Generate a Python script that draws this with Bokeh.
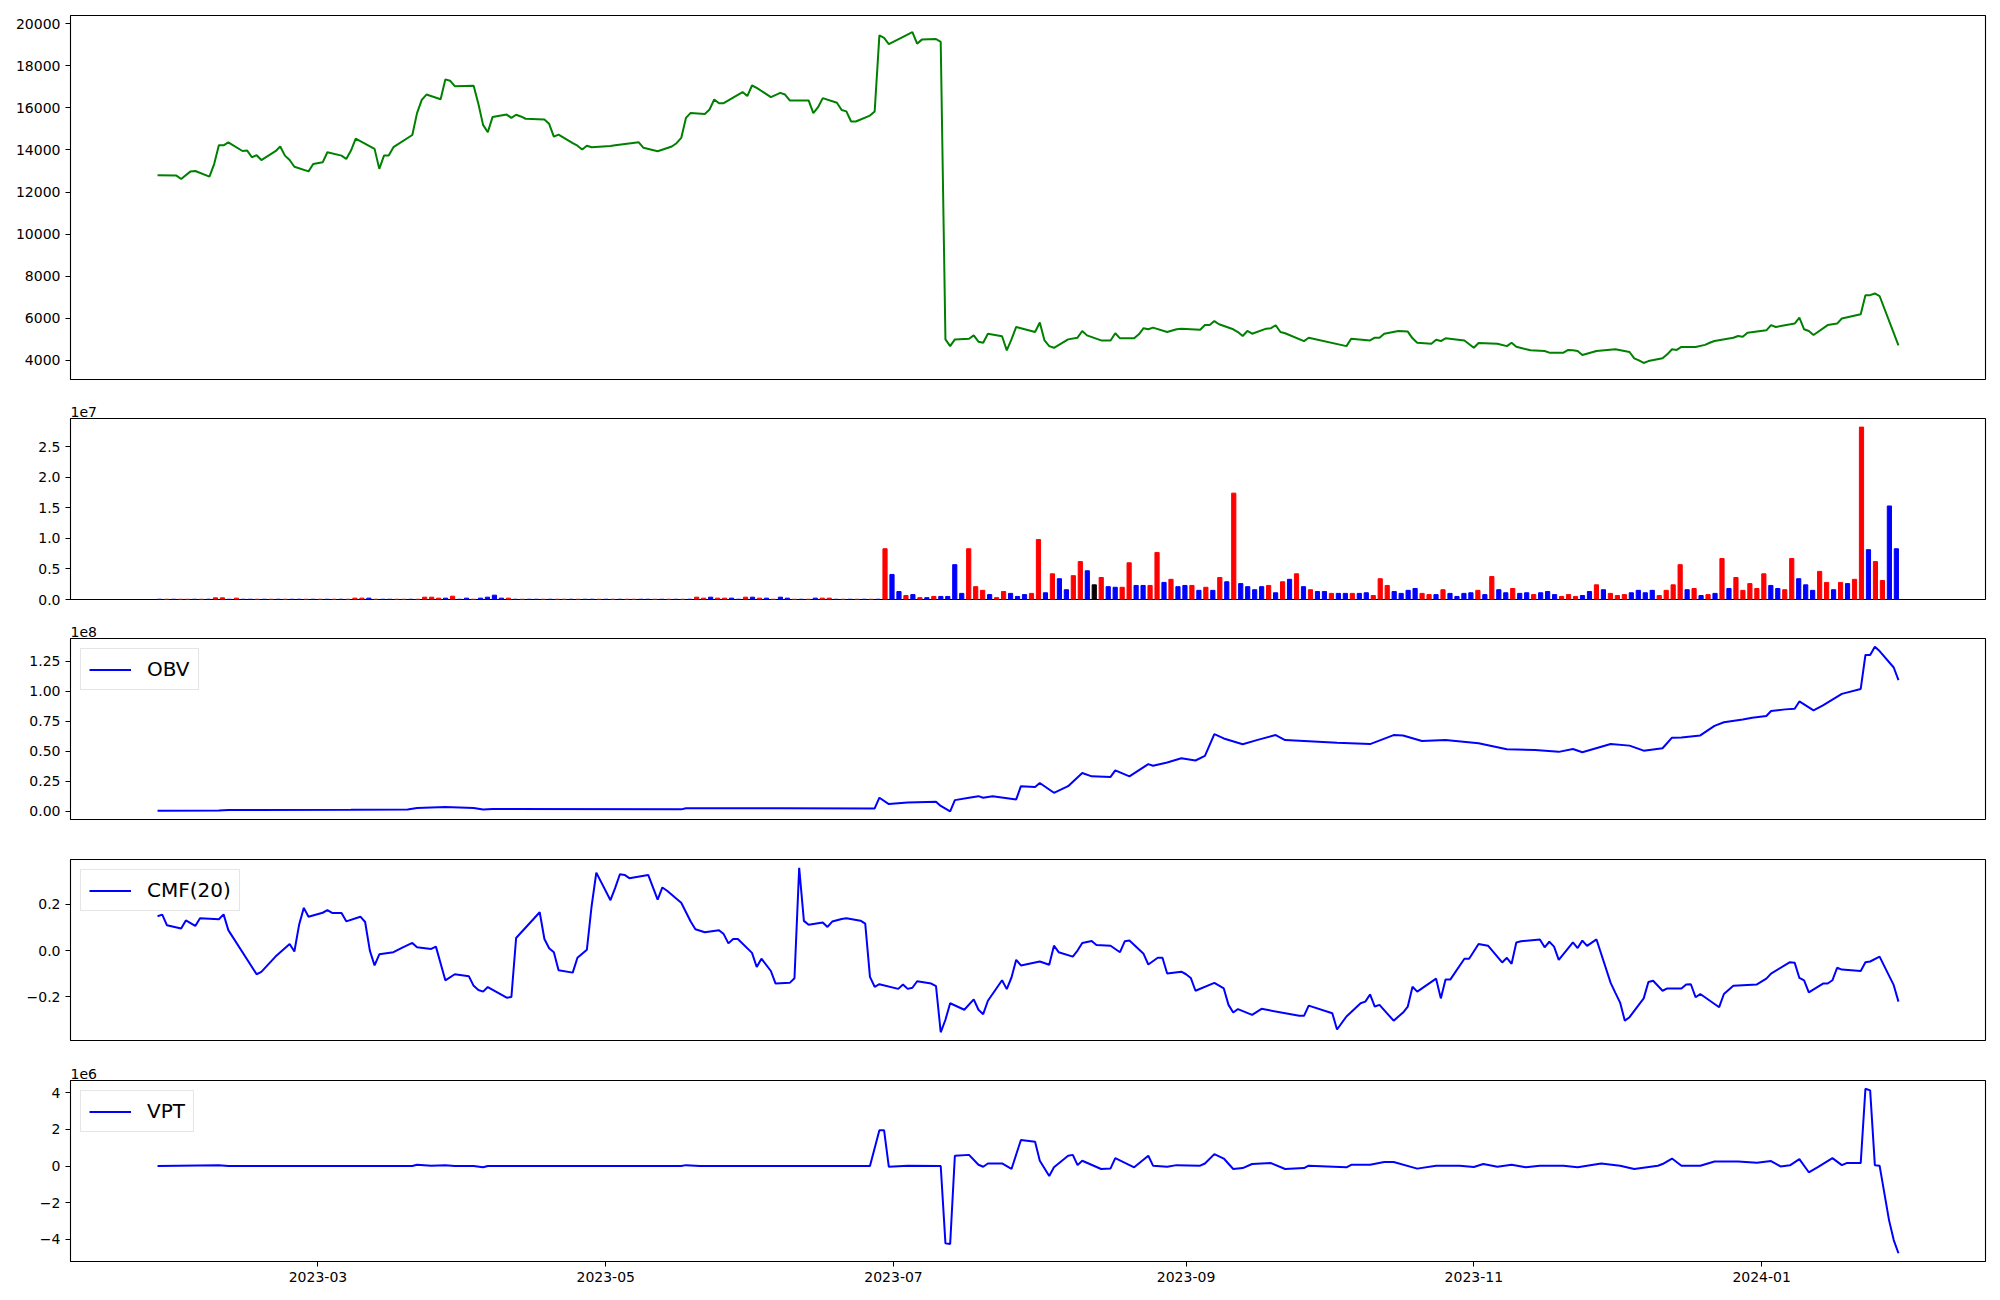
import pandas as pd
from bokeh.plotting import figure
from bokeh.layouts import column
from bokeh.models import Range1d, SingleIntervalTicker, FixedTicker, CustomJSTickFormatter
from bokeh.embed import file_html
from bokeh.resources import INLINE

# ---------------- data ----------------
price_dates = [
    "2023-01-26", "2023-01-30", "2023-01-31", "2023-02-02", "2023-02-03", "2023-02-06", "2023-02-07", "2023-02-08",
    "2023-02-09", "2023-02-10", "2023-02-13", "2023-02-14", "2023-02-15", "2023-02-16", "2023-02-17", "2023-02-20",
    "2023-02-21", "2023-02-22", "2023-02-23", "2023-02-24", "2023-02-27", "2023-02-28", "2023-03-02", "2023-03-03",
    "2023-03-06", "2023-03-07", "2023-03-08", "2023-03-09", "2023-03-13", "2023-03-14", "2023-03-15", "2023-03-16",
    "2023-03-17", "2023-03-21", "2023-03-22", "2023-03-23", "2023-03-24", "2023-03-27", "2023-03-28", "2023-03-29",
    "2023-03-30", "2023-04-03", "2023-04-04", "2023-04-05", "2023-04-06", "2023-04-07", "2023-04-10", "2023-04-11",
    "2023-04-12", "2023-04-13", "2023-04-14", "2023-04-18", "2023-04-19", "2023-04-20", "2023-04-21", "2023-04-24",
    "2023-04-25", "2023-04-26", "2023-04-27", "2023-04-28", "2023-05-02", "2023-05-03", "2023-05-08", "2023-05-09",
    "2023-05-12", "2023-05-15", "2023-05-16", "2023-05-17", "2023-05-18", "2023-05-19", "2023-05-22", "2023-05-23",
    "2023-05-24", "2023-05-25", "2023-05-26", "2023-05-30", "2023-05-31", "2023-06-01", "2023-06-02", "2023-06-05",
    "2023-06-07", "2023-06-08", "2023-06-09", "2023-06-13", "2023-06-14", "2023-06-15", "2023-06-16", "2023-06-19",
    "2023-06-20", "2023-06-21", "2023-06-22", "2023-06-23", "2023-06-26", "2023-06-27", "2023-06-28", "2023-06-29",
    "2023-06-30", "2023-07-05", "2023-07-06", "2023-07-07", "2023-07-10", "2023-07-11", "2023-07-12", "2023-07-13",
    "2023-07-14", "2023-07-17", "2023-07-18", "2023-07-19", "2023-07-20", "2023-07-21", "2023-07-24", "2023-07-25",
    "2023-07-26", "2023-07-27", "2023-07-31", "2023-08-01", "2023-08-02", "2023-08-03", "2023-08-04", "2023-08-07",
    "2023-08-09", "2023-08-10", "2023-08-11", "2023-08-14", "2023-08-16", "2023-08-17", "2023-08-18", "2023-08-21",
    "2023-08-22", "2023-08-23", "2023-08-24", "2023-08-25", "2023-08-28", "2023-08-30", "2023-08-31", "2023-09-04",
    "2023-09-05", "2023-09-06", "2023-09-07", "2023-09-08", "2023-09-11", "2023-09-12", "2023-09-13", "2023-09-14",
    "2023-09-15", "2023-09-18", "2023-09-19", "2023-09-20", "2023-09-21", "2023-09-22", "2023-09-26", "2023-09-27",
    "2023-10-05", "2023-10-06", "2023-10-10", "2023-10-11", "2023-10-12", "2023-10-13", "2023-10-16", "2023-10-18",
    "2023-10-19", "2023-10-20", "2023-10-23", "2023-10-24", "2023-10-25", "2023-10-26", "2023-10-30", "2023-11-01",
    "2023-11-02", "2023-11-06", "2023-11-08", "2023-11-09", "2023-11-10", "2023-11-13", "2023-11-16", "2023-11-17",
    "2023-11-20", "2023-11-21", "2023-11-22", "2023-11-23", "2023-11-24", "2023-11-27", "2023-12-01", "2023-12-04",
    "2023-12-05", "2023-12-06", "2023-12-07", "2023-12-08", "2023-12-11", "2023-12-12", "2023-12-13", "2023-12-14",
    "2023-12-15", "2023-12-18", "2023-12-20", "2023-12-21", "2023-12-22", "2023-12-26", "2023-12-27", "2023-12-28",
    "2023-12-29", "2024-01-02", "2024-01-03", "2024-01-04", "2024-01-08", "2024-01-09", "2024-01-10", "2024-01-11",
    "2024-01-12", "2024-01-15", "2024-01-16", "2024-01-17", "2024-01-18", "2024-01-22", "2024-01-23", "2024-01-24",
    "2024-01-25", "2024-01-26", "2024-01-30",
]
price_values = [
    12800, 12780, 12620, 12980, 13000, 12730, 13330, 14220,
    14220, 14360, 13950, 13970, 13650, 13750, 13520, 13940,
    14160, 13730, 13520, 13200, 12980, 13330, 13410, 13890,
    13730, 13570, 13970, 14540, 14050, 13100, 13730, 13730,
    14130, 14710, 15750, 16380, 16630, 16410, 17350, 17290,
    17030, 17050, 16190, 15190, 14840, 15560, 15680, 15520,
    15670, 15590, 15480, 15440, 15240, 14630, 14730, 14320,
    14200, 14020, 14200, 14130, 14190, 14220, 14360, 14100,
    13940, 14160, 14320, 14570, 15520, 15760, 15710, 15920,
    16400, 16220, 16220, 16750, 16560, 17060, 16950, 16510,
    16710, 16630, 16350, 16350, 15750, 16030, 16460, 16240,
    15900, 15830, 15350, 15350, 15630, 15830, 19440, 19320,
    19030, 19600, 19050, 19240, 19270, 19130, 5000, 4680,
    5000, 5030, 5190, 4890, 4840, 5270, 5150, 4480,
    5000, 5590, 5350, 5800, 4950, 4680, 4600, 5000,
    5080, 5400, 5190, 4950, 4950, 5290, 5050, 5050,
    5240, 5530, 5480, 5560, 5350, 5480, 5510, 5460,
    5680, 5680, 5870, 5720, 5480, 5350, 5160, 5400,
    5270, 5510, 5530, 5670, 5350, 5290, 4920, 5080,
    4680, 5030, 4950, 5080, 5080, 5270, 5400, 5370,
    5050, 4840, 4790, 4980, 4920, 5050, 4950, 4600,
    4830, 4790, 4680, 4840, 4650, 4480, 4450, 4370,
    4370, 4500, 4480, 4450, 4260, 4450, 4530, 4400,
    4100, 4000, 3880, 3970, 4100, 4290, 4530, 4500,
    4640, 4640, 4740, 4840, 4920, 5080, 5160, 5130,
    5320, 5430, 5680, 5590, 5750, 6030, 5480, 5400,
    5210, 5680, 5720, 5750, 5990, 6190, 7100, 7100,
    7180, 7060, 4720,
]

# volume per trading session (millions of shares), drawn by session index
volume_m = [
    0.04, 0.04, 0.04, 0.04, 0.04, 0.04, 0.04, 0.04, 0.27, 0.27, 0.04, 0.22,
    0.04, 0.04, 0.04, 0.04, 0.04, 0.04, 0.04, 0.04, 0.04, 0.04, 0.04, 0.04, 0.04, 0.04, 0.04, 0.04,
    0.22, 0.22, 0.22,
    0.04, 0.04, 0.04, 0.04, 0.04, 0.04, 0.04,
    0.38, 0.38, 0.22, 0.22, 0.54, 0.04, 0.22, 0.04, 0.22, 0.38, 0.71, 0.22, 0.22,
    0.04, 0.04, 0.04, 0.04, 0.04, 0.04, 0.04, 0.04, 0.04, 0.04, 0.04, 0.04, 0.04,
    0.04, 0.04, 0.04, 0.04, 0.04, 0.04, 0.04, 0.04, 0.04, 0.04, 0.04, 0.04, 0.04,
    0.38, 0.22, 0.38, 0.22, 0.22, 0.22, 0.04, 0.38, 0.38, 0.22, 0.22, 0.04, 0.38, 0.22, 0.04, 0.04,
    0.04, 0.22, 0.22, 0.22,
    0.04, 0.04, 0.04, 0.04, 0.04, 0.04, 0.04,
    8.3, 4.1, 1.3, 0.65, 0.8, 0.3, 0.3, 0.5, 0.5, 0.5,
    5.7, 1.0, 8.3, 2.1, 1.5, 0.8, 0.3, 1.3, 1.0, 0.5,
    0.8, 1.0, 9.8, 1.1, 4.2, 3.4, 1.6, 3.9, 6.2, 4.7,
    2.4, 3.6, 2.1, 2.0, 2.0, 6.0, 2.3, 2.3, 2.3, 7.7,
    2.8, 3.3, 2.1, 2.3, 2.3, 1.5, 2.0, 1.5, 3.6, 2.9,
    17.4, 2.6, 2.1, 1.6, 2.1, 2.3, 1.1, 2.9, 3.3, 4.2,
    2.1, 1.6, 1.3, 1.3, 1.0, 1.0, 1.0, 1.0, 1.0, 1.1,
    0.65, 3.4, 2.3, 1.3, 1.0, 1.5, 1.8, 1.0, 0.8, 0.8,
    1.6, 1.0, 0.5, 1.0, 1.1, 1.5, 0.8, 3.75, 1.6, 1.1,
    1.8, 1.0, 1.1, 0.8, 1.1, 1.3, 0.8, 0.5, 0.8, 0.5,
    0.65, 1.3, 2.4, 1.6, 1.0, 0.65, 0.8, 1.1, 1.5, 1.1,
    1.5, 0.65, 1.5, 2.4, 5.7, 1.6, 1.8, 0.65, 0.8, 1.0,
    6.7, 1.8, 3.6, 1.5, 2.6, 1.8, 4.2, 2.3, 1.8, 1.6,
    6.7, 3.4, 2.4, 1.5, 4.6, 2.8, 1.6, 2.8, 2.6, 3.3,
    28.2, 8.15, 6.2, 3.1, 15.3, 8.3,
]
# r = close up, b = close down, k = unchanged
volume_dir = list(
    "brbrrbrb" "rrbr" "bbrbrbrbbrbrbrbr" "rrb" "rbbrrbr" "rrrbrbbrbbbbr"
    "brbbrbrrbrbbrbrbrrbbrbrbrb" "rrbrrbbrbrbrbbrbrbrr" "brbrbrb"
    "rbbrbrbrbb" "bbrrrbrrbb" "brrbrbbrrb" "krbbrrbbrr" "brbbrbrbrb"
    "rbbbbrbrbr" "brbbrbbrbb" "rrrbbbbrrb" "rbbbbrbrbb" "rbbrbbbrrr"
    "bbrbrrrbbb" "brrrrbrbrb" "rbrrrrrbbr" "rbbbrrbrbr" "rbrrbb"
)

obv_dates = [
    "2023-01-26", "2023-02-08", "2023-02-10", "2023-03-08", "2023-03-20", "2023-03-22", "2023-03-28", "2023-04-03",
    "2023-04-05", "2023-04-07", "2023-05-17", "2023-05-18", "2023-06-07", "2023-06-27", "2023-06-28", "2023-06-30",
    "2023-07-04", "2023-07-10", "2023-07-11", "2023-07-13", "2023-07-14", "2023-07-17", "2023-07-19", "2023-07-20",
    "2023-07-22", "2023-07-27", "2023-07-28", "2023-07-31", "2023-08-01", "2023-08-04", "2023-08-07", "2023-08-10",
    "2023-08-12", "2023-08-16", "2023-08-17", "2023-08-20", "2023-08-24", "2023-08-25", "2023-08-28", "2023-08-31",
    "2023-09-03", "2023-09-05", "2023-09-07", "2023-09-09", "2023-09-13", "2023-09-16", "2023-09-20", "2023-09-22",
    "2023-10-03", "2023-10-10", "2023-10-15", "2023-10-17", "2023-10-21", "2023-10-26", "2023-11-02", "2023-11-08",
    "2023-11-14", "2023-11-19", "2023-11-22", "2023-11-24", "2023-11-30", "2023-12-04", "2023-12-07", "2023-12-11",
    "2023-12-13", "2023-12-15", "2023-12-19", "2023-12-22", "2023-12-24", "2023-12-28", "2023-12-30", "2024-01-02",
    "2024-01-03", "2024-01-06", "2024-01-08", "2024-01-09", "2024-01-12", "2024-01-14", "2024-01-18", "2024-01-22",
    "2024-01-23", "2024-01-24", "2024-01-25", "2024-01-26", "2024-01-29", "2024-01-30",
]
obv_1e8 = [
    0.004, 0.006, 0.010, 0.012, 0.015, 0.027, 0.036, 0.027,
    0.014, 0.019, 0.016, 0.025, 0.026, 0.024, 0.113, 0.060,
    0.074, 0.080, 0.044, 0.000, 0.093, 0.113, 0.126, 0.113,
    0.126, 0.099, 0.209, 0.203, 0.236, 0.154, 0.209, 0.319,
    0.291, 0.286, 0.341, 0.291, 0.393, 0.379, 0.407, 0.442,
    0.423, 0.462, 0.643, 0.607, 0.558, 0.593, 0.635, 0.593,
    0.571, 0.560, 0.635, 0.632, 0.585, 0.593, 0.566, 0.516,
    0.511, 0.495, 0.519, 0.492, 0.560, 0.547, 0.505, 0.525,
    0.613, 0.615, 0.632, 0.712, 0.742, 0.764, 0.780, 0.794,
    0.835, 0.849, 0.854, 0.915, 0.841, 0.882, 0.978, 1.019,
    1.302, 1.302, 1.371, 1.335, 1.198, 1.093,
]

cmf_dates = [
    "2023-01-26", "2023-01-27", "2023-01-28", "2023-01-31", "2023-02-01", "2023-02-03", "2023-02-04", "2023-02-08",
    "2023-02-09", "2023-02-10", "2023-02-16", "2023-02-17", "2023-02-20", "2023-02-23", "2023-02-24", "2023-02-25",
    "2023-02-26", "2023-02-27", "2023-03-02", "2023-03-03", "2023-03-04", "2023-03-06", "2023-03-07", "2023-03-10",
    "2023-03-11", "2023-03-12", "2023-03-13", "2023-03-14", "2023-03-17", "2023-03-19", "2023-03-21", "2023-03-22",
    "2023-03-25", "2023-03-26", "2023-03-28", "2023-03-30", "2023-04-02", "2023-04-03", "2023-04-04", "2023-04-05",
    "2023-04-06", "2023-04-10", "2023-04-11", "2023-04-12", "2023-04-17", "2023-04-18", "2023-04-19", "2023-04-20",
    "2023-04-21", "2023-04-24", "2023-04-25", "2023-04-27", "2023-04-28", "2023-04-29", "2023-05-02", "2023-05-03",
    "2023-05-04", "2023-05-05", "2023-05-06", "2023-05-10", "2023-05-12", "2023-05-13", "2023-05-14", "2023-05-17",
    "2023-05-19", "2023-05-20", "2023-05-22", "2023-05-25", "2023-05-26", "2023-05-27", "2023-05-28", "2023-05-29",
    "2023-06-01", "2023-06-02", "2023-06-03", "2023-06-05", "2023-06-06", "2023-06-09", "2023-06-10", "2023-06-11",
    "2023-06-12", "2023-06-13", "2023-06-16", "2023-06-17", "2023-06-18", "2023-06-20", "2023-06-21", "2023-06-24",
    "2023-06-25", "2023-06-26", "2023-06-27", "2023-06-28", "2023-07-02", "2023-07-03", "2023-07-04", "2023-07-05",
    "2023-07-06", "2023-07-09", "2023-07-10", "2023-07-11", "2023-07-12", "2023-07-13", "2023-07-16", "2023-07-18",
    "2023-07-19", "2023-07-20", "2023-07-21", "2023-07-24", "2023-07-25", "2023-07-26", "2023-07-27", "2023-07-28",
    "2023-08-01", "2023-08-03", "2023-08-04", "2023-08-05", "2023-08-08", "2023-08-09", "2023-08-10", "2023-08-12",
    "2023-08-13", "2023-08-16", "2023-08-18", "2023-08-19", "2023-08-20", "2023-08-23", "2023-08-24", "2023-08-26",
    "2023-08-27", "2023-08-28", "2023-08-31", "2023-09-01", "2023-09-02", "2023-09-03", "2023-09-07", "2023-09-09",
    "2023-09-10", "2023-09-11", "2023-09-12", "2023-09-15", "2023-09-17", "2023-09-25", "2023-09-26", "2023-09-27",
    "2023-10-02", "2023-10-03", "2023-10-05", "2023-10-08", "2023-10-09", "2023-10-10", "2023-10-11", "2023-10-12",
    "2023-10-15", "2023-10-17", "2023-10-18", "2023-10-19", "2023-10-20", "2023-10-24", "2023-10-25", "2023-10-26",
    "2023-10-27", "2023-10-30", "2023-10-31", "2023-11-02", "2023-11-04", "2023-11-07", "2023-11-08", "2023-11-09",
    "2023-11-10", "2023-11-11", "2023-11-15", "2023-11-16", "2023-11-17", "2023-11-18", "2023-11-19", "2023-11-22",
    "2023-11-23", "2023-11-24", "2023-11-25", "2023-11-27", "2023-11-30", "2023-12-01", "2023-12-02", "2023-12-03",
    "2023-12-04", "2023-12-07", "2023-12-08", "2023-12-09", "2023-12-11", "2023-12-12", "2023-12-15", "2023-12-16",
    "2023-12-17", "2023-12-18", "2023-12-19", "2023-12-23", "2023-12-24", "2023-12-26", "2023-12-31", "2024-01-02",
    "2024-01-03", "2024-01-07", "2024-01-08", "2024-01-09", "2024-01-10", "2024-01-11", "2024-01-14", "2024-01-15",
    "2024-01-16", "2024-01-17", "2024-01-18", "2024-01-22", "2024-01-23", "2024-01-24", "2024-01-26", "2024-01-29",
    "2024-01-30",
]
cmf_values = [
    0.148, 0.155, 0.109, 0.095, 0.130, 0.106, 0.139, 0.135,
    0.156, 0.088, -0.102, -0.092, -0.026, 0.028, -0.004, 0.111,
    0.184, 0.146, 0.163, 0.174, 0.162, 0.162, 0.126, 0.146,
    0.123, 0.000, -0.064, -0.016, -0.007, 0.014, 0.033, 0.014,
    0.007, 0.017, -0.128, -0.102, -0.111, -0.152, -0.170, -0.177,
    -0.157, -0.203, -0.200, 0.054, 0.165, 0.050, 0.010, -0.007,
    -0.085, -0.095, -0.031, 0.004, 0.191, 0.336, 0.217, 0.270,
    0.329, 0.326, 0.312, 0.326, 0.220, 0.272, 0.258, 0.206,
    0.125, 0.092, 0.079, 0.088, 0.071, 0.031, 0.050, 0.050,
    -0.010, -0.071, -0.035, -0.088, -0.142, -0.139, -0.119, 0.357,
    0.128, 0.111, 0.121, 0.102, 0.125, 0.136, 0.139, 0.129,
    0.116, -0.113, -0.156, -0.145, -0.165, -0.146, -0.165, -0.160,
    -0.132, -0.142, -0.153, -0.352, -0.298, -0.227, -0.255, -0.210,
    -0.255, -0.274, -0.216, -0.128, -0.166, -0.116, -0.040, -0.064,
    -0.047, -0.061, 0.021, -0.007, -0.026, 0.000, 0.033, 0.041,
    0.024, 0.021, -0.007, 0.040, 0.043, -0.014, -0.060, -0.031,
    -0.031, -0.099, -0.091, -0.102, -0.118, -0.173, -0.139, -0.163,
    -0.234, -0.267, -0.252, -0.277, -0.251, -0.281, -0.281, -0.237,
    -0.270, -0.340, -0.284, -0.227, -0.220, -0.189, -0.241, -0.234,
    -0.302, -0.267, -0.241, -0.156, -0.177, -0.121, -0.206, -0.125,
    -0.125, -0.035, -0.035, 0.028, 0.021, -0.051, -0.031, -0.057,
    0.035, 0.040, 0.048, 0.014, 0.038, 0.017, -0.040, 0.035,
    0.011, 0.043, 0.020, 0.048, -0.139, -0.182, -0.224, -0.302,
    -0.287, -0.206, -0.135, -0.130, -0.173, -0.163, -0.163, -0.146,
    -0.145, -0.201, -0.187, -0.244, -0.187, -0.152, -0.146, -0.121,
    -0.099, -0.050, -0.052, -0.118, -0.128, -0.180, -0.142, -0.142,
    -0.128, -0.074, -0.082, -0.088, -0.050, -0.047, -0.026, -0.149,
    -0.220,
]

vpt_dates = [
    "2023-01-26", "2023-02-08", "2023-02-10", "2023-03-21", "2023-03-22", "2023-03-25", "2023-03-28", "2023-03-30",
    "2023-04-03", "2023-04-05", "2023-04-06", "2023-05-17", "2023-05-18", "2023-05-21", "2023-06-26", "2023-06-28",
    "2023-06-29", "2023-06-30", "2023-07-04", "2023-07-11", "2023-07-12", "2023-07-13", "2023-07-14", "2023-07-17",
    "2023-07-19", "2023-07-20", "2023-07-21", "2023-07-24", "2023-07-26", "2023-07-28", "2023-07-31", "2023-08-01",
    "2023-08-03", "2023-08-04", "2023-08-07", "2023-08-08", "2023-08-09", "2023-08-10", "2023-08-14", "2023-08-16",
    "2023-08-17", "2023-08-21", "2023-08-24", "2023-08-25", "2023-08-28", "2023-08-30", "2023-09-04", "2023-09-05",
    "2023-09-07", "2023-09-09", "2023-09-11", "2023-09-13", "2023-09-15", "2023-09-19", "2023-09-22", "2023-09-26",
    "2023-09-27", "2023-10-05", "2023-10-06", "2023-10-10", "2023-10-13", "2023-10-15", "2023-10-20", "2023-10-24",
    "2023-10-29", "2023-11-01", "2023-11-03", "2023-11-06", "2023-11-09", "2023-11-12", "2023-11-15", "2023-11-20",
    "2023-11-23", "2023-11-28", "2023-12-02", "2023-12-05", "2023-12-10", "2023-12-11", "2023-12-13", "2023-12-15",
    "2023-12-19", "2023-12-22", "2023-12-27", "2023-12-31", "2024-01-03", "2024-01-05", "2024-01-07", "2024-01-09",
    "2024-01-11", "2024-01-13", "2024-01-16", "2024-01-18", "2024-01-19", "2024-01-22", "2024-01-23", "2024-01-24",
    "2024-01-25", "2024-01-26", "2024-01-28", "2024-01-29", "2024-01-30",
]
vpt_1e6 = [
    0.0, 0.05, 0.0, 0.0, 0.07, 0.02, 0.05, 0.0,
    0.0, -0.07, 0.0, 0.0, 0.05, 0.0, 0.0, 1.95,
    1.95, -0.04, 0.02, 0.0, -4.22, -4.25, 0.56, 0.61,
    0.07, -0.04, 0.14, 0.14, -0.16, 1.42, 1.32, 0.29,
    -0.54, -0.07, 0.56, 0.61, 0.05, 0.29, -0.16, -0.13,
    0.43, -0.07, 0.56, 0.02, -0.04, 0.05, 0.02, 0.14,
    0.65, 0.41, -0.16, -0.11, 0.11, 0.16, -0.16, -0.11,
    0.02, -0.07, 0.07, 0.07, 0.22, 0.22, -0.14, 0.02,
    0.02, -0.05, 0.11, -0.04, 0.07, -0.07, 0.02, 0.02,
    -0.07, 0.14, 0.02, -0.16, 0.02, 0.11, 0.41, 0.02,
    0.02, 0.25, 0.25, 0.18, 0.27, -0.02, 0.04, 0.38,
    -0.34, -0.04, 0.43, 0.05, 0.16, 0.16, 4.22, 4.13,
    0.05, 0.02, -2.95, -4.04, -4.76,
]

x_tick_labels = ["2023-03", "2023-05", "2023-07", "2023-09", "2023-11", "2024-01"]

# ---------------- styling helpers ----------------
FONT = "DejaVu Sans"
W = 1992
BORDER_L, BORDER_R = 70, 7
FRAME_H = 181


def ms(dates):
    return [pd.Timestamp(d).value / 1e6 for d in dates]


all_ms = ms(price_dates) + ms(obv_dates) + ms(cmf_dates) + ms(vpt_dates)
t0, t1 = min(all_ms), max(all_ms)
pad_t = 0.05 * (t1 - t0)
date_range = Range1d(start=t0 - pad_t, end=t1 + pad_t)


def padded(vals):
    lo, hi = min(vals), max(vals)
    pad = 0.05 * (hi - lo)
    return Range1d(start=lo - pad, end=hi + pad)


def fmt(code):
    return CustomJSTickFormatter(code=code)


def make_fig(height, top, bottom, x_range, y_range, interval, yfmt, title=None, show_x=False):
    p = figure(width=W, height=height, x_range=x_range, y_range=y_range,
               x_axis_type="datetime" if show_x else "linear",
               x_axis_location="below" if show_x else None,
               output_backend="svg", toolbar_location=None,
               min_border_left=BORDER_L, min_border_right=BORDER_R,
               min_border_top=top, min_border_bottom=bottom)
    p.outline_line_color = "black"
    p.outline_line_width = 1.1
    p.outline_line_alpha = 1.0
    p.xgrid.visible = False
    p.ygrid.visible = False
    ax = p.yaxis[0]
    ax.ticker = SingleIntervalTicker(interval=interval, num_minor_ticks=0)
    ax.formatter = yfmt
    ax.axis_line_color = "black"
    ax.major_tick_line_color = "black"
    ax.major_tick_out = 5
    ax.major_tick_in = 0
    ax.minor_tick_out = 0
    ax.minor_tick_in = 0
    ax.major_label_text_font = FONT
    ax.major_label_text_font_size = "14px"
    ax.major_label_text_color = "black"
    ax.major_label_standoff = 5
    if title:
        p.title.text = title
        p.title.align = "left"
        p.title.text_font = FONT
        p.title.text_font_size = "14px"
        p.title.text_font_style = "normal"
        p.title.text_color = "black"
        p.title.standoff = 4
    return p


def style_legend(p):
    lg = p.legend[0]
    lg.location = "top_left"
    lg.margin = 10
    lg.padding = 8
    lg.spacing = 0
    lg.label_text_font = FONT
    lg.label_text_font_size = "20px"
    lg.label_text_color = "black"
    lg.label_height = 21
    lg.glyph_height = 21
    lg.glyph_width = 42
    lg.label_standoff = 16
    lg.border_line_color = "#cccccc"
    lg.border_line_width = 1
    lg.background_fill_alpha = 0.8


# ---------------- panel 1: price ----------------
p1 = make_fig(15 + 364 + 7, 15, 7, date_range, padded(price_values), 2000,
              fmt("return tick.toFixed(0);"))
p1.line(pd.to_datetime(price_dates), price_values, line_color="green", line_width=2)

# ---------------- panel 2: volume by session ----------------
vol = [v * 1e6 for v in volume_m]
idx = list(range(len(vol)))
bar_w = 0.6
lo_x, hi_x = -bar_w / 2, len(vol) - 1 + bar_w / 2
span_x = hi_x - lo_x
vol_xr = Range1d(start=lo_x - 0.05 * span_x, end=hi_x + 0.05 * span_x)
vol_yr = Range1d(start=0, end=max(vol) * 1.05)
cmap = {"r": "red", "b": "blue", "k": "black"}
vol_colors = [cmap[c] for c in volume_dir]
p2 = make_fig(32 + FRAME_H + 7, 32, 7, vol_xr, vol_yr, 5e6,
              fmt("return (tick/1e7).toFixed(1);"), title="1e7")
p2.vbar(x=idx, top=vol, width=bar_w, color=vol_colors)

# ---------------- panel 3: OBV ----------------
obv = [v * 1e8 for v in obv_1e8]
p3 = make_fig(32 + FRAME_H + 7, 32, 7, date_range, padded(obv), 2.5e7,
              fmt("return (tick/1e8).toFixed(2);"), title="1e8")
p3.line(pd.to_datetime(obv_dates), obv, line_color="blue", line_width=2, legend_label="OBV")
style_legend(p3)

# ---------------- panel 4: CMF ----------------
p4 = make_fig(33 + FRAME_H + 7, 33, 7, date_range, padded(cmf_values), 0.2,
              fmt("const v = Math.abs(tick) < 1e-9 ? 0 : tick; return v.toFixed(1).replace('-', '\u2212');"))
p4.line(pd.to_datetime(cmf_dates), cmf_values, line_color="blue", line_width=2, legend_label="CMF(20)")
style_legend(p4)

# ---------------- panel 5: VPT ----------------
vpt = [v * 1e6 for v in vpt_1e6]
p5 = make_fig(33 + FRAME_H + 30, 33, 30, date_range, padded(vpt), 2e6,
              fmt("const v = Math.abs(tick) < 1e-9 ? 0 : tick/1e6; return v.toFixed(0).replace('-', '\u2212');"),
              title="1e6", show_x=True)
p5.line(pd.to_datetime(vpt_dates), vpt, line_color="blue", line_width=2, legend_label="VPT")
style_legend(p5)
xa = p5.xaxis[0]
xa.ticker = FixedTicker(ticks=ms([s + "-01" for s in x_tick_labels]))
xa.formatter = fmt("const d = new Date(tick); const m = d.getUTCMonth() + 1;"
                   " return d.getUTCFullYear() + '-' + (m < 10 ? '0' + m : '' + m);")
xa.axis_line_color = "black"
xa.major_tick_line_color = "black"
xa.major_tick_out = 5
xa.major_tick_in = 0
xa.minor_tick_out = 0
xa.minor_tick_in = 0
xa.major_label_text_font = FONT
xa.major_label_text_font_size = "14px"
xa.major_label_text_color = "black"
xa.major_label_standoff = 5

layout = column(p1, p2, p3, p4, p5, spacing=0)
open("out.html", "w", encoding="utf-8").write(file_html(layout, INLINE, "chart"))
